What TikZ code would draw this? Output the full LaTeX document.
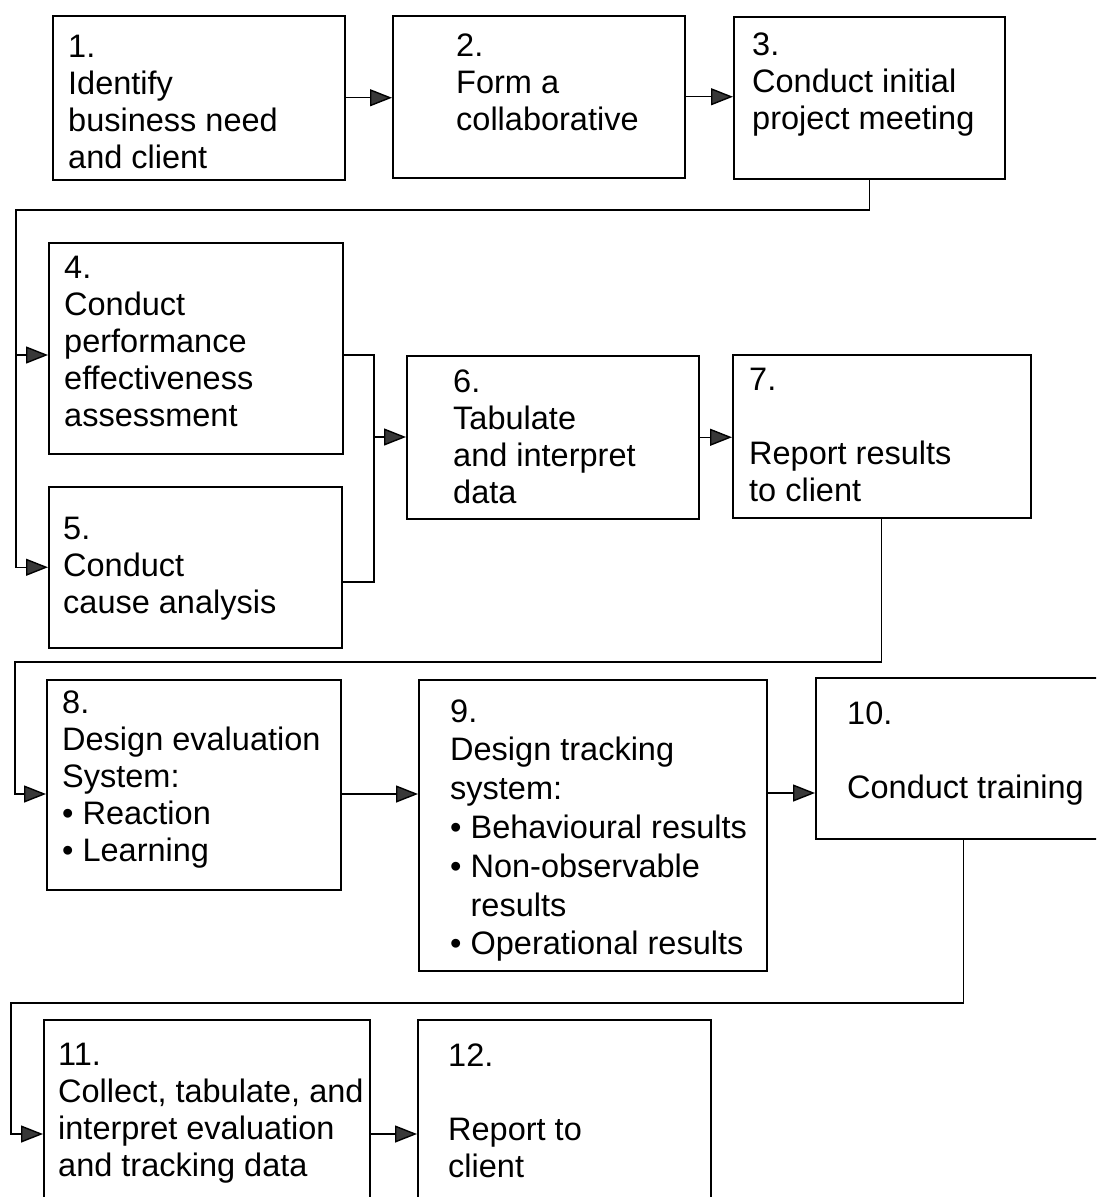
\documentclass[tikz,border=0pt]{standalone}
\usepackage{fontspec}
\setmainfont{Liberation Sans}
\usetikzlibrary{arrows.meta}
% multi-line text whose reference point is the baseline of its first line
\newcommand\steplines[1]{\begin{tabular}[t]{@{}l@{}}#1\end{tabular}}
\begin{document}
\begin{tikzpicture}[x=1pt,y=-1pt,
  stepbox/.style={draw, line width=1.5pt, inner sep=0pt, anchor=north west},
  txt/.style={anchor=base west, inner sep=0pt, font=\fontsize{32.5}{37}\selectfont},
  txtwide/.style={txt, font=\fontsize{32.5}{38.8}\selectfont},
  link/.style={line width=1.4pt},
  flow/.style={link, -{Triangle[length=22pt,width=17pt,fill=black!78]}}]
\useasboundingbox (0,0) rectangle (1096,1197);
\clip (0,0) rectangle (1096,1197);

% step boxes (top-left corner, size)
\node[stepbox, minimum width=292pt, minimum height=164pt] (b1) at (52,15) {};
\node[stepbox, minimum width=292pt, minimum height=162pt] (b2) at (392,15) {};
\node[stepbox, minimum width=271pt, minimum height=162pt] (b3) at (733,16) {};
\node[stepbox, minimum width=294pt, minimum height=211pt] (b4) at (48,242) {};
\node[stepbox, minimum width=293pt, minimum height=161pt] (b5) at (48,486) {};
\node[stepbox, minimum width=292pt, minimum height=163pt] (b6) at (406,355) {};
\node[stepbox, minimum width=298pt, minimum height=163pt] (b7) at (732,354) {};
\node[stepbox, minimum width=294pt, minimum height=210pt] (b8) at (46,679) {};
\node[stepbox, minimum width=348pt, minimum height=291pt] (b9) at (418,679) {};
\node[stepbox, minimum width=295pt, minimum height=161pt] (b10) at (815,677) {};
\node[stepbox, minimum width=326pt, minimum height=200pt] (b11) at (43,1019) {};
\node[stepbox, minimum width=293pt, minimum height=200pt] (b12) at (417,1019) {};

% step texts
\node[txt] (t1) at (68,57) {\steplines{1.\\ Identify\\ business need\\ and client}};
\node[txt] (t2) at (456,56) {\steplines{2.\\ Form a\\ collaborative}};
\node[txt] (t3) at (752,55) {\steplines{3.\\ Conduct initial\\ project meeting}};
\node[txt] (t4) at (64,278) {\steplines{4.\\ Conduct\\ performance\\ effectiveness\\ assessment}};
\node[txt] (t5) at (63,539) {\steplines{5.\\ Conduct\\ cause analysis}};
\node[txt] (t6) at (453,392) {\steplines{6.\\ Tabulate\\ and interpret\\ data}};
\node[txt] (t7) at (749,390) {\steplines{7.\\ \\ Report results\\ to client}};
\node[txt] (t8) at (62,713) {\steplines{8.\\ Design evaluation\\ System:\\ • Reaction\\ • Learning}};
\node[txtwide] (t9) at (450,722) {\steplines{9.\\ Design tracking\\ system:\\ • Behavioural results\\ • Non-observable\\ \hphantom{• }results\\ • Operational results}};
\node[txt] (t10) at (847,724) {\steplines{10.\\ \\ Conduct training}};
\node[txt] (t11) at (58,1065) {\steplines{11.\\ Collect, tabulate, and\\ interpret evaluation\\ and tracking data}};
\node[txt] (t12) at (448,1066) {\steplines{12.\\ \\ Report to\\ client}};

% routing points of the return lines
\coordinate (r1) at (16,210);
\coordinate (m1) at (374,437);
\coordinate (r2) at (15,662);
\coordinate (r3) at (11,1003);

% connectors
\draw[flow] (b1.east) -- (b2.west |- b1.east);
\draw[flow] (b2.east) -- (b3.west |- b2.east);
\draw[flow] (b3.south) |- (r1) |- (b4.west |- 0,355);
\draw[flow] (r1) |- (b5.west);
\draw[link] (b4.east |- 0,355) -| (m1);
\draw[link] (b5.east |- 0,582) -| (m1);
\draw[flow] (m1) -- (b6.west |- m1);
\draw[flow] (b6.east) -- (b7.west |- b6.east);
\draw[flow] (b7.south) |- (r2) |- (b8.west |- 0,794);
\draw[flow] (b8.east |- 0,794) -- (b9.west |- 0,794);
\draw[flow] (b9.east |- 0,793) -- (b10.west |- 0,793);
\draw[flow] (b10.south) |- (r3) |- (b11.west |- 0,1134);
\draw[flow] (b11.east |- 0,1134) -- (b12.west |- 0,1134);
\end{tikzpicture}
\end{document}
